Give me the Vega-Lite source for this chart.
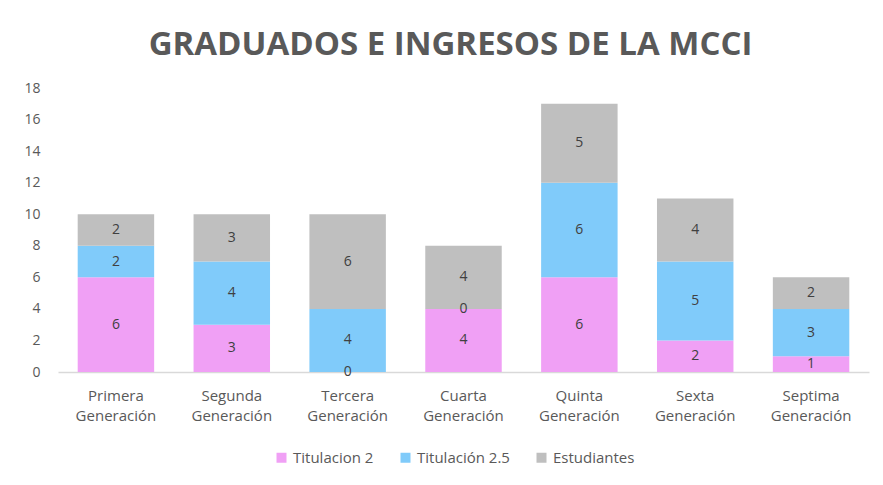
{
  "$schema": "https://vega.github.io/schema/vega-lite/v6.json",
  "autosize": {"type": "none"},
  "width": 811,
  "height": 284,
  "padding": {"left": 58, "top": 88, "right": 14, "bottom": 113},
  "background": "white",
  "config": {
    "font": "Open Sans",
    "view": {"stroke": null}
  },
  "title": {
    "text": "GRADUADOS E INGRESOS DE LA MCCI",
    "font": "Open Sans",
    "fontSize": 33,
    "fontWeight": "bold",
    "color": "#595959",
    "anchor": "middle",
    "dx": -13,
    "offset": 19
  },
  "data": {
    "values": [
      {"gen": "Primera Generación", "serie": "Titulacion 2", "idx": 1, "valor": 6},
      {"gen": "Primera Generación", "serie": "Titulación 2.5", "idx": 2, "valor": 2},
      {"gen": "Primera Generación", "serie": "Estudiantes", "idx": 3, "valor": 2},
      {"gen": "Segunda Generación", "serie": "Titulacion 2", "idx": 1, "valor": 3},
      {"gen": "Segunda Generación", "serie": "Titulación 2.5", "idx": 2, "valor": 4},
      {"gen": "Segunda Generación", "serie": "Estudiantes", "idx": 3, "valor": 3},
      {"gen": "Tercera Generación", "serie": "Titulacion 2", "idx": 1, "valor": 0},
      {"gen": "Tercera Generación", "serie": "Titulación 2.5", "idx": 2, "valor": 4},
      {"gen": "Tercera Generación", "serie": "Estudiantes", "idx": 3, "valor": 6},
      {"gen": "Cuarta Generación", "serie": "Titulacion 2", "idx": 1, "valor": 4},
      {"gen": "Cuarta Generación", "serie": "Titulación 2.5", "idx": 2, "valor": 0},
      {"gen": "Cuarta Generación", "serie": "Estudiantes", "idx": 3, "valor": 4},
      {"gen": "Quinta Generación", "serie": "Titulacion 2", "idx": 1, "valor": 6},
      {"gen": "Quinta Generación", "serie": "Titulación 2.5", "idx": 2, "valor": 6},
      {"gen": "Quinta Generación", "serie": "Estudiantes", "idx": 3, "valor": 5},
      {"gen": "Sexta Generación", "serie": "Titulacion 2", "idx": 1, "valor": 2},
      {"gen": "Sexta Generación", "serie": "Titulación 2.5", "idx": 2, "valor": 5},
      {"gen": "Sexta Generación", "serie": "Estudiantes", "idx": 3, "valor": 4},
      {"gen": "Septima Generación", "serie": "Titulacion 2", "idx": 1, "valor": 1},
      {"gen": "Septima Generación", "serie": "Titulación 2.5", "idx": 2, "valor": 3},
      {"gen": "Septima Generación", "serie": "Estudiantes", "idx": 3, "valor": 2}
    ]
  },
  "transform": [
    {"stack": "valor", "groupby": ["gen"], "sort": [{"field": "idx", "order": "ascending"}], "as": ["v0", "v1"]},
    {"calculate": "(datum.v0 + datum.v1) / 2", "as": "vmid"}
  ],
  "encoding": {
    "x": {
      "field": "gen",
      "type": "nominal",
      "sort": null,
      "scale": {"paddingInner": 0.34, "paddingOuter": 0.17},
      "axis": {
        "title": null,
        "labelAngle": 0,
        "labelExpr": "split(datum.label, ' ')",
        "labelFont": "Open Sans",
        "labelFontSize": 15,
        "labelColor": "#595959",
        "labelLineHeight": 20,
        "labelPadding": 16,
        "labelOverlap": false,
        "ticks": false,
        "domainColor": "#D9D9D9",
        "domainWidth": 1.5
      }
    }
  },
  "layer": [
    {
      "mark": {"type": "bar"},
      "encoding": {
        "y": {
          "field": "v0",
          "type": "quantitative",
          "scale": {"domain": [0, 18]},
          "axis": {
            "title": null,
            "values": [0, 2, 4, 6, 8, 10, 12, 14, 16, 18],
            "labelOverlap": false,
            "domain": false,
            "ticks": false,
            "grid": false,
            "labelFont": "Open Sans",
            "labelFontSize": 14,
            "labelColor": "#595959",
            "labelPadding": 18
          }
        },
        "y2": {"field": "v1"},
        "color": {
          "field": "serie",
          "type": "nominal",
          "sort": ["Titulacion 2", "Titulación 2.5", "Estudiantes"],
          "scale": {
            "domain": ["Titulacion 2", "Titulación 2.5", "Estudiantes"],
            "range": ["#F0A0F5", "#80CBFA", "#BFBFBF"]
          },
          "legend": {
            "title": null,
            "orient": "none",
            "direction": "horizontal",
            "legendX": 216,
            "legendY": 362,
            "symbolType": "square",
            "symbolSize": 100,
            "symbolStrokeWidth": 0,
            "labelFont": "Open Sans",
            "labelFontSize": 15,
            "labelColor": "#595959",
            "columnPadding": 24,
            "labelOffset": 4
          }
        }
      }
    },
    {
      "mark": {"type": "text", "fontSize": 14, "color": "#404040", "font": "Open Sans", "baseline": "middle"},
      "encoding": {
        "y": {
          "field": "vmid",
          "type": "quantitative",
          "scale": {"domain": [0, 18]},
          "axis": {
            "title": null,
            "values": [0, 2, 4, 6, 8, 10, 12, 14, 16, 18],
            "labelOverlap": false,
            "domain": false,
            "ticks": false,
            "grid": false,
            "labelFont": "Open Sans",
            "labelFontSize": 14,
            "labelColor": "#595959",
            "labelPadding": 18
          }
        },
        "text": {"field": "valor", "type": "quantitative"}
      }
    }
  ]
}
